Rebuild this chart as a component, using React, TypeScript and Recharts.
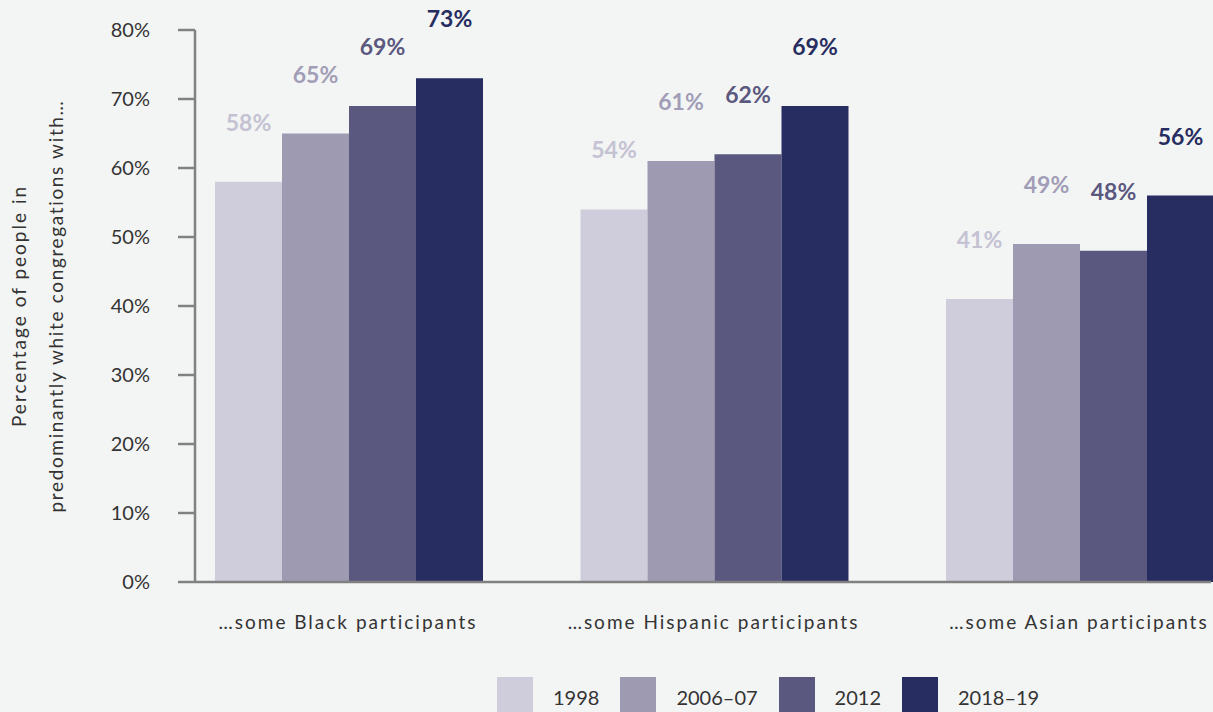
import React from 'react';
import { BarChart, Bar, XAxis, YAxis, Legend, LabelList } from 'recharts';

const categories = ['…some Black participants', '…some Hispanic participants', '…some Asian participants'];
const seriesNames = ['1998', '2006–07', '2012', '2018–19'];
const values1998 = [58, 54, 41];
const values2006 = [65, 61, 49];
const values2012 = [69, 62, 48];
const values2018 = [73, 69, 56];
const yTicks = [0, 10, 20, 30, 40, 50, 60, 70, 80];

const barColors = ['#cfcddb', '#9e9ab2', '#5b587f', '#272d60'];
const labelColors = ['#c4c2d3', '#a19db6', '#5b587f', '#272d60'];
const keys = ['y1998', 'y2006', 'y2012', 'y2018'];

const data = categories.map((name, i) => ({
  name,
  y1998: values1998[i],
  y2006: values2006[i],
  y2012: values2012[i],
  y2018: values2018[i],
}));

const FONT = 'Lato, "Noto Sans", sans-serif';
const AXIS = '#818181';

function YLabel(props: any) {
  const { viewBox } = props;
  const cy = viewBox.y + viewBox.height / 2;
  return (
    <text transform={`translate(0, ${cy}) rotate(-90)`} textAnchor="middle" fill="#333" fontSize={19} fontFamily={FONT}>
      <tspan x={0} y={26} letterSpacing={2}>Percentage of people in</tspan>
      <tspan x={0} y={63} letterSpacing={1.65}>predominantly white congregations with…</tspan>
    </text>
  );
}

function LegendRow(props: any) {
  const items = props.payload || [];
  return (
    <div style={{ display: 'flex', alignItems: 'flex-start', height: 35, fontFamily: FONT }}>
      {items.map((it: any) => (
        <div key={it.value} style={{ display: 'flex', alignItems: 'center' }}>
          <span style={{ display: 'inline-block', width: 36, height: 36, background: it.color, marginRight: 20 }} />
          <span style={{ fontSize: 20, color: '#333', marginRight: 21, position: 'relative', top: 2 }}>{it.value}</span>
        </div>
      ))}
    </div>
  );
}

export default function App() {
  return (
    <div style={{ position: 'fixed', top: 0, left: 0, width: 1213, height: 712, background: '#f3f5f4', overflow: 'hidden' }}>
      <BarChart
        width={1213}
        height={712}
        data={data}
        margin={{ top: 30, right: 2, bottom: 0, left: 0 }}
        barCategoryGap={49.75}
        barGap={0}
      >
        <XAxis
          dataKey="name"
          height={95}
          padding={{ left: -29.75, right: -50.75 }}
          axisLine={{ stroke: AXIS, strokeWidth: 2.5 }}
          tickLine={false}
          tickSize={0}
          tickMargin={34}
          tick={{ fill: '#333', fontSize: 19, fontFamily: FONT, letterSpacing: 2 }}
        />
        <YAxis
          width={195}
          domain={[0, 80]}
          ticks={yTicks}
          tickFormatter={(v) => `${v}%`}
          axisLine={{ stroke: AXIS, strokeWidth: 2.5 }}
          tickLine={{ stroke: AXIS, strokeWidth: 2.5 }}
          tickSize={17}
          tickMargin={28}
          tick={{ fill: '#333', fontSize: 20, fontFamily: FONT }}
          label={{ content: <YLabel /> }}
        />
        <Legend
          verticalAlign="bottom"
          content={<LegendRow />}
          wrapperStyle={{ left: 497, width: 'auto', bottom: 0 }}
        />
        {keys.map((k, i) => (
          <Bar key={k} dataKey={k} name={seriesNames[i]} fill={barColors[i]} isAnimationActive={false}>
            <LabelList
              dataKey={k}
              position="top"
              offset={51}
              formatter={(v: any) => `${v}%`}
              fill={labelColors[i]}
              fontSize={23}
              fontWeight="bold"
              fontFamily={FONT}
            />
          </Bar>
        ))}
      </BarChart>
    </div>
  );
}
